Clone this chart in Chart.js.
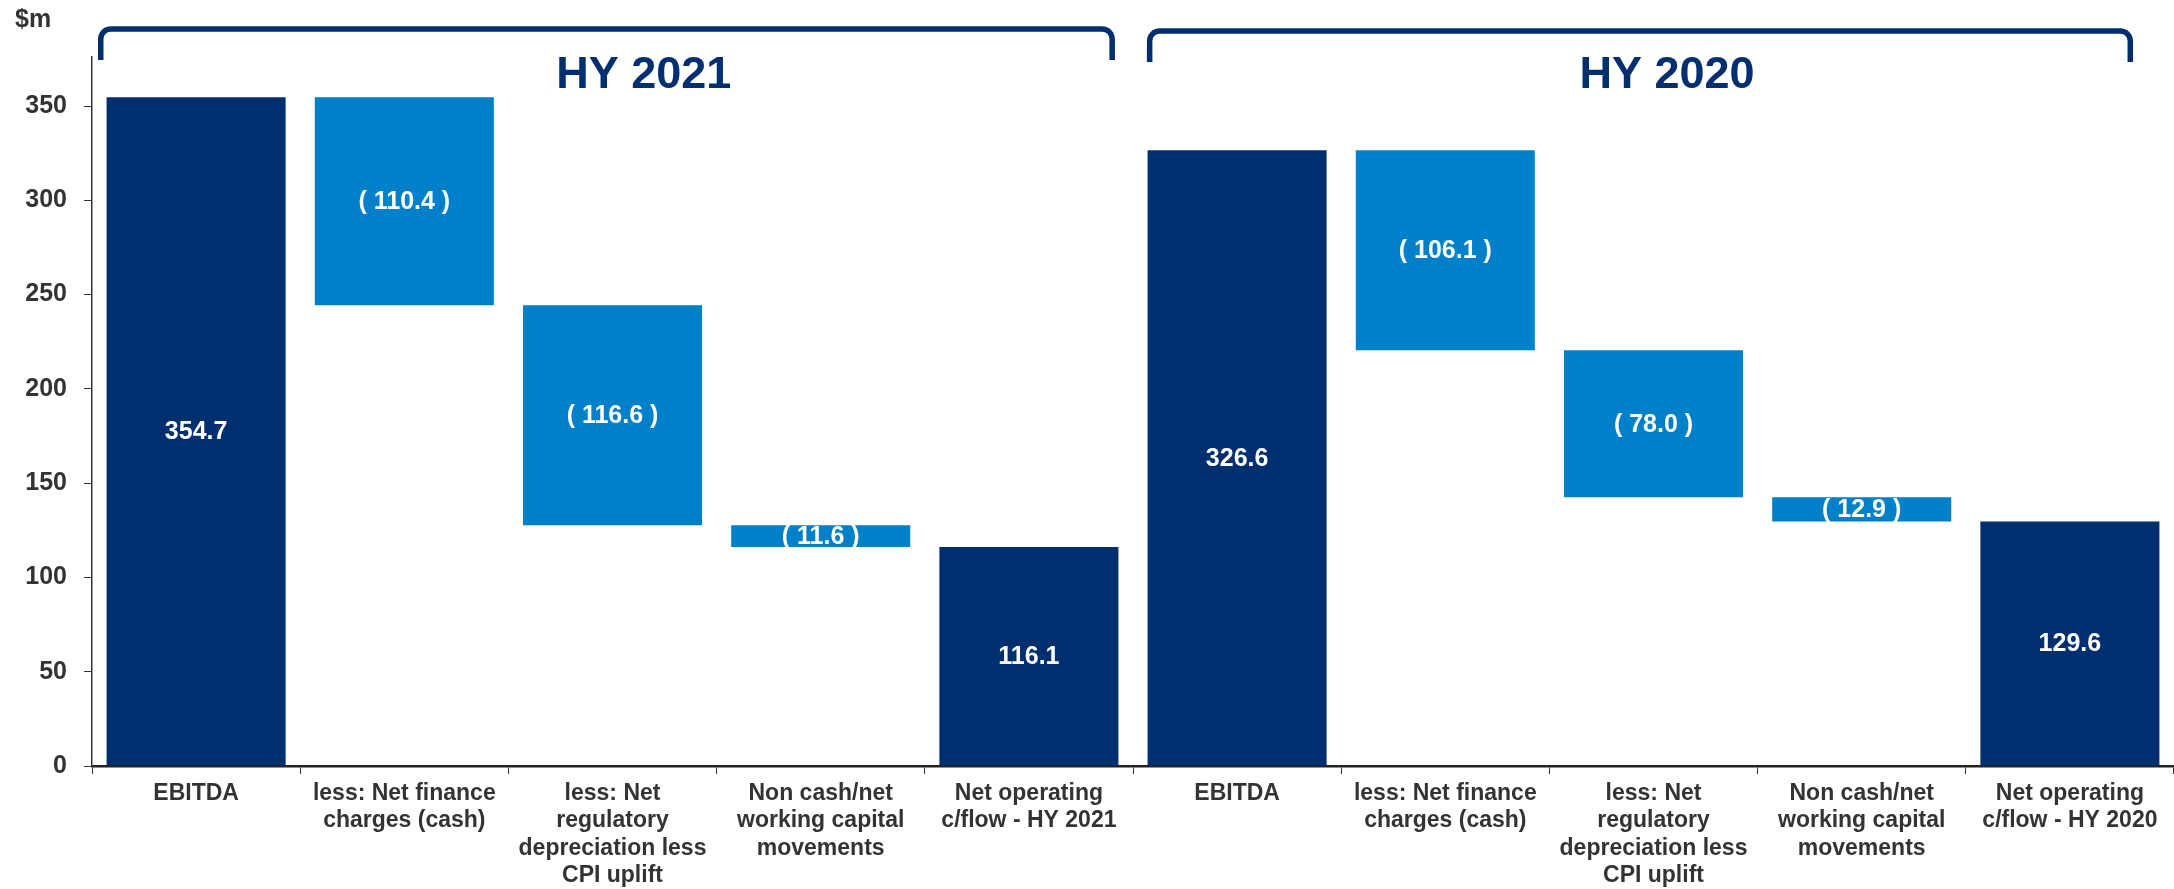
<!DOCTYPE html>
<html>
<head>
<meta charset="utf-8">
<script src="https://cdn.jsdelivr.net/npm/chart.js@4"></script>
<style>
  body { margin: 0; background: #fff; }
  #wrap { width: 2174px; height: 889px; position: relative; }
</style>
</head>
<body>
<div id="wrap"><canvas id="cashflowChart"></canvas></div>
<script>
var stepLabels = [
  ['EBITDA'],
  ['less: Net finance', 'charges (cash)'],
  ['less: Net', 'regulatory', 'depreciation less', 'CPI uplift'],
  ['Non cash/net', 'working capital', 'movements'],
  ['Net operating', 'c/flow - HY 2021'],
  ['EBITDA'],
  ['less: Net finance', 'charges (cash)'],
  ['less: Net', 'regulatory', 'depreciation less', 'CPI uplift'],
  ['Non cash/net', 'working capital', 'movements'],
  ['Net operating', 'c/flow - HY 2020']
];
var hy2021 = [354.7, -110.4, -116.6, -11.6, 116.1];
var hy2020 = [326.6, -106.1, -78.0, -12.9, 129.6];
var isTotal = [true, false, false, false, true];
var groupTitles = ['HY 2021', 'HY 2020'];
var yTickValues = [0, 50, 100, 150, 200, 250, 300, 350];

var NAVY = '#002f6f';
var BLUE = '#0080c8';
var TEXT = '#333333';
var FONT = '"Liberation Sans", Arial, sans-serif';

// build floating bars from the running sum
var bars = [], colors = [], texts = [];
[hy2021, hy2020].forEach(function (vals) {
  var run = 0;
  vals.forEach(function (v, i) {
    if (isTotal[i]) {
      bars.push([0, v]);
      colors.push(NAVY);
      texts.push(v.toFixed(1));
      run = v;
    } else {
      bars.push([run + v, run]);
      colors.push(BLUE);
      texts.push('( ' + Math.abs(v).toFixed(1) + ' )');
      run = run + v;
    }
  });
});

var labelPlugin = {
  id: 'barLabels',
  afterDatasetsDraw: function (chart) {
    var ctx = chart.ctx;
    var meta = chart.getDatasetMeta(0);
    ctx.save();
    ctx.fillStyle = '#ffffff';
    ctx.font = 'bold 25px ' + FONT;
    ctx.textAlign = 'center';
    ctx.textBaseline = 'middle';
    meta.data.forEach(function (bar, i) {
      ctx.fillText(texts[i], bar.x, (bar.y + bar.base) / 2 + 1);
    });
    ctx.restore();
  }
};

var bracketPlugin = {
  id: 'brackets',
  afterDraw: function (chart) {
    var ctx = chart.ctx;
    var x = chart.scales.x;
    var cw = x.getPixelForValue(1) - x.getPixelForValue(0);
    var groups = [
      { left: x.getPixelForValue(0) - 0.458 * cw, right: x.getPixelForValue(4) + 0.40 * cw, top: 29, bottom: 60, mid: x.getPixelForValue(2) + 0.15 * cw },
      { left: x.getPixelForValue(5) - 0.42 * cw, right: x.getPixelForValue(9) + 0.29 * cw, top: 31, bottom: 62, mid: x.getPixelForValue(7) + 0.065 * cw }
    ];
    ctx.save();
    ctx.strokeStyle = NAVY;
    ctx.lineWidth = 5.5;
    groups.forEach(function (g, i) {
      ctx.beginPath();
      ctx.moveTo(g.left, g.bottom);
      ctx.arcTo(g.left, g.top, g.left + 12, g.top, 10);
      ctx.arcTo(g.right, g.top, g.right, g.bottom, 10);
      ctx.lineTo(g.right, g.bottom);
      ctx.stroke();
      ctx.fillStyle = NAVY;
      ctx.font = 'bold 45px ' + FONT;
      ctx.textAlign = 'center';
      ctx.textBaseline = 'alphabetic';
      ctx.fillText(groupTitles[i], g.mid, 88);
    });
    ctx.fillStyle = TEXT;
    ctx.font = 'bold 25px ' + FONT;
    ctx.textAlign = 'left';
    ctx.fillText('$m', 15, 27);
    ctx.restore();
  }
};

var ctx = document.getElementById('cashflowChart').getContext('2d');
var cashflowChart = new Chart(ctx, {
  type: 'bar',
  data: {
    labels: stepLabels,
    datasets: [{
      data: bars,
      backgroundColor: colors,
      borderWidth: 0,
      borderSkipped: false,
      categoryPercentage: 1.0,
      barPercentage: 0.86
    }]
  },
  options: {
    responsive: true,
    maintainAspectRatio: false,
    animation: false,
    layout: { padding: { top: 57, right: 0, left: 0, bottom: 0 } },
    plugins: {
      legend: { display: false },
      tooltip: { enabled: false }
    },
    scales: {
      x: {
        grid: { display: true, drawOnChartArea: false, drawTicks: true, tickLength: 8, color: TEXT, offset: true },
        border: { color: '#222', width: 2.5 },
        ticks: {
          color: TEXT,
          maxRotation: 0,
          autoSkip: false,
          padding: 6,
          font: { family: FONT, size: 23, weight: 'bold', lineHeight: 1.19 }
        },
        afterFit: function (s) { s.height = 123; }
      },
      y: {
        min: 0,
        max: 376,
        afterBuildTicks: function (s) {
          s.ticks = yTickValues.map(function (v) { return { value: v }; });
        },
        grid: { display: true, drawOnChartArea: false, drawTicks: true, tickLength: 8, color: TEXT },
        border: { color: TEXT, width: 1.5 },
        ticks: {
          color: TEXT,
          padding: 17,
          font: { family: FONT, size: 25, weight: 'bold' }
        },
        afterFit: function (s) { s.width = 92; }
      }
    }
  },
  plugins: [labelPlugin, bracketPlugin]
});
</script>
</body>
</html>
